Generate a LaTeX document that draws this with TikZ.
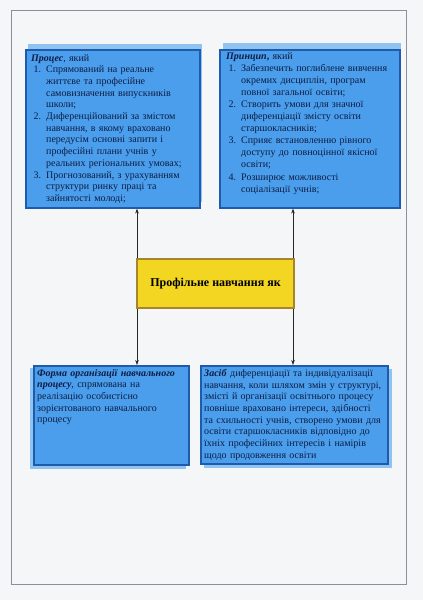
\documentclass[tikz,border=0pt]{standalone}
\usepackage{fontspec}
\setmainfont{Liberation Serif}
\usepackage{enumitem}
\usetikzlibrary{arrows.meta}
\definecolor{pagebg}{HTML}{F5F6F8}
\definecolor{frameline}{HTML}{8A8F98}
\definecolor{boxblue}{HTML}{4A9EEB}
\definecolor{shadowblue}{HTML}{8EC3F2}
\definecolor{borderblue}{HTML}{1E5BAA}
\definecolor{textnavy}{HTML}{0E1C44}
\definecolor{boxyellow}{HTML}{F3D622}
\definecolor{borderyellow}{HTML}{A8842A}
\newlist{pitems}{enumerate}{1}
\setlist[pitems]{label=\arabic*., leftmargin=15pt, labelsep=5pt, itemsep=0pt, topsep=0pt, parsep=0pt, partopsep=0pt}
\tikzset{
  bluebox/.style={draw=borderblue, line width=1.6pt, fill=boxblue, anchor=north west, inner sep=0pt},
  blueshadow/.style={fill=shadowblue, draw=none, anchor=north west, inner sep=0pt},
  boxtext/.style={anchor=north west, inner sep=0pt, align=left, text=textnavy,
    font=\fontsize{10pt}{11.7pt}\selectfont},
  yellowbox/.style={draw=borderyellow, line width=2pt, fill=boxyellow, inner sep=0pt,
    font=\fontsize{12pt}{14pt}\selectfont\bfseries, text=black},
  arr/.style={-{Stealth[length=5pt,width=3.5pt]}, line width=0.5pt, draw=black!85}
}
\begin{document}
\begin{tikzpicture}[x=1pt,y=-1pt]
\useasboundingbox (0,0) rectangle (423,600);
\fill[pagebg] (0,0) rectangle (423,600);
\draw[frameline, line width=0.6pt] (11,10) rectangle (406,584);

% shadows
\node[blueshadow, minimum width=174pt, minimum height=158pt] (tlsh) at (28,44) {};
\node[blueshadow, minimum width=178pt, minimum height=158pt] (trsh) at (223,43) {};
\node[blueshadow, minimum width=156pt, minimum height=101pt] (blsh) at (30,368) {};
\node[blueshadow, minimum width=188pt, minimum height=99pt] (brsh) at (204,369) {};

% main boxes
\node[bluebox, minimum width=174pt, minimum height=158pt] (tl) at (25,49) {};
\node[bluebox, minimum width=180pt, minimum height=158pt] (tr) at (219,49) {};
\node[bluebox, minimum width=155pt, minimum height=99pt] (bl) at (33,365) {};
\node[bluebox, minimum width=187pt, minimum height=98pt] (br) at (200,365) {};

% centre box
\node[yellowbox, minimum width=157pt, minimum height=49pt, anchor=north west] (c) at (136,258) {};
\node[font=\fontsize{12pt}{14pt}\selectfont\bfseries] (ct) at (c.center) {Профільне навчання як};

% texts
\node[boxtext, text width=168pt] (tlt) at ([shift={(6,5)}]tl.north west) {%
\textbf{\textit{Процес}}, який
\begin{pitems}
\item Спрямований на реальне\\ життєве та професійне\\ самовизначення випускників\\ школи;
\item Диференційований за змістом\\ навчання, в якому враховано\\ передусім основні запити і\\ професійні плани учнів у\\ реальних регіональних умовах;
\item Прогнозований, з урахуванням\\ структури ринку праці та\\ зайнятості молоді;
\end{pitems}};

\node[boxtext, text width=174pt, font=\fontsize{10pt}{12.1pt}\selectfont] (trt) at ([shift={(7,3)}]tr.north west) {%
\textbf{\textit{Принцип},} який
\begin{pitems}
\item Забезпечить поглиблене вивчення\\ окремих дисциплін, програм\\ повної загальної освіти;
\item Створить умови для значної\\ диференціації змісту освіти\\ старшокласників;
\item Сприяє встановленню рівного\\ доступу до повноцінної якісної\\ освіти;
\item Розширює можливості\\ соціалізації учнів;
\end{pitems}};

\node[boxtext, text width=152pt] (blt) at ([shift={(4,4)}]bl.north west) {%
\textbf{\textit{Форма організації навчального\\ процесу}}, спрямована на\\ реалізацію особистісно\\ зорієнтованого навчального\\ процесу};

\node[boxtext, text width=184pt] (brt) at ([shift={(4,4)}]br.north west) {%
\textbf{\textit{Засіб}} диференціації та індивідуалізації\\ навчання, коли шляхом змін у структурі,\\ змісті й організації освітнього процесу\\ повніше враховано інтереси, здібності\\ та схильності учнів, створено умови для\\ освіти старшокласників відповідно до\\ їхніх професійних інтересів і намірів\\ щодо продовження освіти};

% connectors
\draw[arr] ([xshift=1pt]c.north west) -- ([xshift=1pt]c.north west |- tl.south);
\draw[arr] ([xshift=-2pt]c.north east) -- ([xshift=-2pt]c.north east |- tr.south);
\draw[arr] ([xshift=1pt]c.south west) -- ([xshift=1pt]c.south west |- bl.north);
\draw[arr] ([xshift=-2pt]c.south east) -- ([xshift=-2pt]c.south east |- br.north);
\end{tikzpicture}
\end{document}
